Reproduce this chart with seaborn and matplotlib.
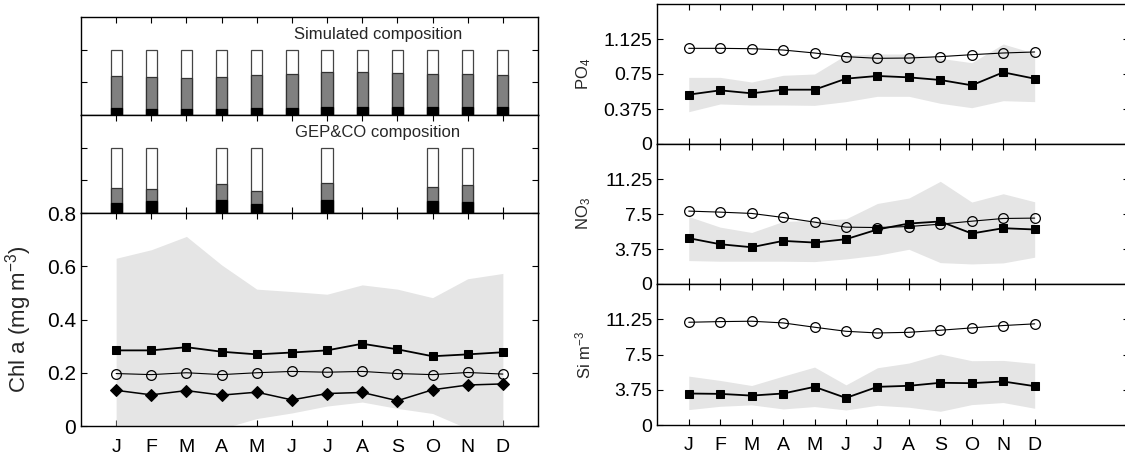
import numpy as np
import matplotlib
matplotlib.use("Agg")
import matplotlib.pyplot as plt
import seaborn as sns

months = ["J", "F", "M", "A", "M", "J", "J", "A", "S", "O", "N", "D"]
mpos = np.arange(1, 13)

# Simulated composition (cumulative fractions)
sim_black = [0.10, 0.09, 0.09, 0.09, 0.11, 0.11, 0.12, 0.13, 0.12, 0.12, 0.13, 0.12]
sim_grey = [0.595, 0.58, 0.57, 0.585, 0.615, 0.63, 0.656, 0.66, 0.64, 0.625, 0.625, 0.605]
sim_total = [1.0] * 12
# GEP&CO composition (cumulative fractions), NaN = no data
nan = np.nan
gep_black = [0.15, 0.185, nan, 0.20, 0.14, nan, 0.205, nan, nan, 0.18, 0.17, nan]
gep_grey = [0.38, 0.374, nan, 0.446, 0.344, nan, 0.456, nan, nan, 0.395, 0.436, nan]
gep_total = [1.0, 1.0, nan, 1.0, 1.0, nan, 1.0, nan, nan, 1.0, 1.0, nan]

# Chl a
chl_sq = [0.284, 0.284, 0.296, 0.279, 0.269, 0.276, 0.284, 0.309, 0.288, 0.262, 0.269, 0.277]
chl_ci = [0.197, 0.193, 0.200, 0.193, 0.200, 0.205, 0.202, 0.205, 0.197, 0.193, 0.201, 0.195]
chl_di = [0.134, 0.117, 0.133, 0.116, 0.127, 0.098, 0.122, 0.126, 0.095, 0.136, 0.154, 0.158]
chl_hi = [0.63, 0.662, 0.712, 0.605, 0.514, 0.505, 0.495, 0.53, 0.514, 0.482, 0.553, 0.573]
chl_lo = [-0.05, -0.05, -0.05, -0.01, 0.028, 0.049, 0.075, 0.09, 0.066, 0.047, -0.01, -0.02]

# PO4
po4_ci = [1.025, 1.025, 1.021, 1.007, 0.975, 0.936, 0.918, 0.921, 0.936, 0.957, 0.975, 0.986]
po4_sq = [0.529, 0.575, 0.543, 0.582, 0.582, 0.700, 0.729, 0.714, 0.686, 0.629, 0.768, 0.700]
po4_hi = [0.714, 0.714, 0.664, 0.736, 0.750, 0.954, 0.964, 0.964, 0.918, 0.871, 1.071, 0.971]
po4_lo = [0.346, 0.429, 0.418, 0.418, 0.414, 0.454, 0.511, 0.511, 0.436, 0.389, 0.464, 0.454]

# NO3
no3_ci = [7.81, 7.70, 7.56, 7.13, 6.63, 6.09, 6.05, 6.16, 6.41, 6.73, 7.02, 7.06]
no3_sq = [4.91, 4.26, 3.94, 4.62, 4.44, 4.80, 5.84, 6.48, 6.70, 5.41, 5.98, 5.84]
no3_hi = [7.23, 6.09, 5.52, 6.70, 6.81, 6.98, 8.63, 9.21, 11.0, 8.78, 9.67, 8.81]
no3_lo = [2.51, 2.44, 2.44, 2.44, 2.40, 2.69, 3.08, 3.72, 2.29, 2.15, 2.26, 2.87]

# Si
si_ci = [10.93, 11.00, 11.04, 10.86, 10.40, 9.97, 9.79, 9.86, 10.08, 10.33, 10.58, 10.76]
si_sq = [3.35, 3.31, 3.13, 3.35, 4.06, 2.88, 4.06, 4.17, 4.49, 4.45, 4.63, 4.13]
si_hi = [5.20, 4.74, 4.20, 5.20, 6.16, 4.27, 6.09, 6.59, 7.55, 6.84, 6.87, 6.55]
si_lo = [1.64, 1.99, 2.14, 1.71, 1.96, 1.60, 2.10, 1.89, 1.46, 2.17, 2.39, 1.78]

sns.set_style("ticks")
plt.rcParams["font.family"] = ["Liberation Sans", "DejaVu Sans"]
plt.rcParams["mathtext.fontset"] = "custom"
plt.rcParams["mathtext.rm"] = "Liberation Sans"
plt.rcParams["mathtext.it"] = "Liberation Sans:italic"

fig = plt.figure(figsize=(11.25, 4.57), dpi=100)
W, H = 1125.0, 457.0


def add_ax(x0, y0, x1, y1):
    return fig.add_axes([x0 / W, 1 - y1 / H, (x1 - x0) / W, (y1 - y0) / H])


def style(ax, labelsize=14):
    for s in ax.spines.values():
        s.set_visible(True)
        s.set_linewidth(1.0)
        s.set_color("black")
    ax.tick_params(direction="in", length=4, width=0.8, top=True, right=True,
                   labelsize=labelsize, colors="black")


def comp_panel(ax, black, grey, total, title):
    w = 0.32
    ax.bar(mpos, total, width=w, color="white", edgecolor="#444444", linewidth=0.9, zorder=2)
    ax.bar(mpos, grey, width=w, color="#808080", edgecolor="#333333", linewidth=0.9, zorder=3)
    ax.bar(mpos, black, width=w, color="black", edgecolor="black", linewidth=0.9, zorder=4)
    ax.set_xlim(0, 13)
    ax.set_ylim(0, 1.5)
    ax.set_xticks(mpos)
    ax.set_xticklabels([])
    ax.set_yticks([0.5, 1.0])
    ax.set_yticklabels([])
    ax.text(0.65, 0.82, title, transform=ax.transAxes, ha="center", va="center", fontsize=12)
    style(ax)


# ---- left column
ax_sim = add_ax(81, 17, 538, 115)
comp_panel(ax_sim, sim_black, sim_grey, sim_total, "Simulated composition")
ax_gep = add_ax(81, 115, 538, 213)
comp_panel(ax_gep, gep_black, gep_grey, gep_total, "GEP&CO composition")

band = "#e5e5e5"

ax_chl = add_ax(81, 213, 538, 426)
ax_chl.fill_between(mpos, chl_lo, chl_hi, color=band, linewidth=0, zorder=1)
sns.lineplot(x=mpos, y=chl_sq, ax=ax_chl, color="black", marker="s", markersize=6,
             linewidth=1.3, markeredgecolor="black", zorder=4)
sns.lineplot(x=mpos, y=chl_ci, ax=ax_chl, color="black", marker="o", markersize=7,
             linewidth=0.8, markerfacecolor="none", markeredgecolor="black",
             markeredgewidth=0.9, zorder=3)
sns.lineplot(x=mpos, y=chl_di, ax=ax_chl, color="black", marker="D", markersize=6,
             linewidth=1.1, markeredgecolor="black", zorder=4)
ax_chl.set_xlim(0, 13)
ax_chl.set_ylim(0, 0.8)
ax_chl.set_xticks(mpos)
ax_chl.set_xticklabels(months)
ax_chl.set_yticks([0, 0.2, 0.4, 0.6, 0.8])
ax_chl.set_yticklabels(["0", "0.2", "0.4", "0.6", "0.8"])
style(ax_chl, 15)
ax_chl.tick_params(axis="x", labelsize=14, pad=9)
ax_chl.set_ylabel(r"Chl a (mg m$^{-3}$)", fontsize=16)
ax_chl.yaxis.set_label_coords(-0.103, 0.5)


# ---- right column
def nut_panel(ax, ci, sq, lo, hi, top, ticks, ticklabels, ylabel, show_months):
    ax.fill_between(mpos, lo, hi, color=band, linewidth=0, zorder=1)
    sns.lineplot(x=mpos, y=ci, ax=ax, color="black", marker="o", markersize=7,
                 linewidth=0.8, markerfacecolor="none", markeredgecolor="black",
                 markeredgewidth=0.9, zorder=3)
    sns.lineplot(x=mpos, y=sq, ax=ax, color="black", marker="s", markersize=6,
                 linewidth=1.3, markeredgecolor="black", zorder=4)
    ax.set_xlim(0, 15)
    ax.set_ylim(0, top)
    ax.set_xticks(mpos)
    ax.set_xticklabels(months if show_months else [])
    ax.set_yticks(ticks)
    ax.set_yticklabels(ticklabels)
    style(ax, 14)
    ax.tick_params(axis="x", labelsize=14, pad=9)
    ax.set_ylabel(ylabel, fontsize=12)
    ax.yaxis.set_label_coords(-0.136, 0.5)


ax_po4 = add_ax(657.3, 4, 1129, 144)
nut_panel(ax_po4, po4_ci, po4_sq, po4_lo, po4_hi, 1.5,
          [0, 0.375, 0.75, 1.125], ["0", "0.375", "0.75", "1.125"], r"PO$_4$", False)
ax_no3 = add_ax(657.3, 144, 1129, 284)
nut_panel(ax_no3, no3_ci, no3_sq, no3_lo, no3_hi, 15,
          [0, 3.75, 7.5, 11.25], ["0", "3.75", "7.5", "11.25"], r"NO$_3$", False)
ax_si = add_ax(657.3, 284, 1129, 425)
nut_panel(ax_si, si_ci, si_sq, si_lo, si_hi, 15,
          [0, 3.75, 7.5, 11.25], ["0", "3.75", "7.5", "11.25"], r"Si m$^{-3}$", True)

fig.savefig("out.png", dpi=100)
